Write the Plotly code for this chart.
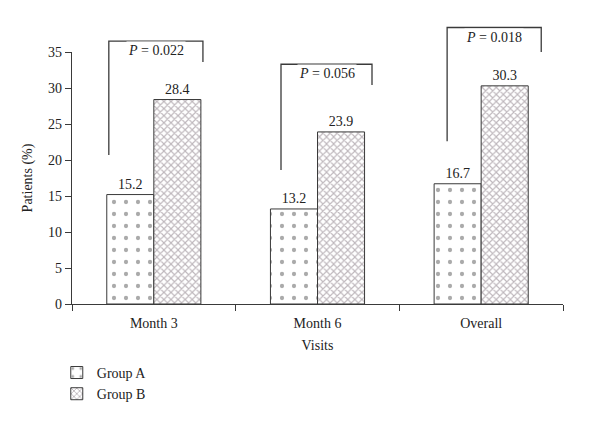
import plotly.graph_objects as go

categories = ["Month 3", "Month 6", "Overall"]
group_a = [15.2, 13.2, 16.7]
group_b = [28.4, 23.9, 30.3]
p_labels = ["0.022", "0.056", "0.018"]
# bracket geometry (data units): left x offset, right x offset, top y, left bottom y, right bottom y
br_left = [-0.275, -0.223, -0.208]
br_right = [0.30, 0.333, 0.367]
br_top = [36.5, 33.3, 38.4]
br_lbot = [20.7, 18.6, 22.6]
br_rbot = [33.6, 30.4, 35.0]

YMAX = 35
FONT = "Liberation Serif"
AX = "#3a3a3a"
FS = 14

fig = go.Figure()
fig.add_trace(go.Bar(
    x=categories, y=group_a, name="Group A",
    marker=dict(color="white", line=dict(color=AX, width=1),
                pattern=dict(shape=".", fgcolor="#555", bgcolor="white", size=12, solidity=0.1)),
    text=[f"{v:.1f}" for v in group_a], textposition="outside",
    textfont=dict(family=FONT, size=FS, color="#222"), cliponaxis=False,
))
fig.add_trace(go.Bar(
    x=categories, y=group_b, name="Group B",
    marker=dict(color="white", line=dict(color=AX, width=1),
                pattern=dict(shape="x", fgcolor="#7d6f7a", bgcolor="white", size=5, solidity=0.4)),
    text=[f"{v:.1f}" for v in group_b], textposition="outside",
    textfont=dict(family=FONT, size=FS, color="#222"), cliponaxis=False,
))

shapes = []
annotations = []
for i in range(len(categories)):
    xl = i + br_left[i]
    xr = i + br_right[i]
    yt = br_top[i] / YMAX
    shapes.append(dict(type="path", xref="x", yref="paper",
                       path=f"M {xl},{br_lbot[i]/YMAX} L {xl},{yt} L {xr},{yt} L {xr},{br_rbot[i]/YMAX}",
                       line=dict(color=AX, width=1.3)))
    annotations.append(dict(x=(xl + xr) / 2, y=yt, xref="x", yref="paper",
                            text=f"<i>P</i> = {p_labels[i]}", showarrow=False,
                            bgcolor="white", borderpad=1,
                            font=dict(family=FONT, size=FS, color="#222")))

fig.update_layout(
    width=600, height=421,
    margin=dict(l=72, r=37, t=52, b=117, autoexpand=False),
    paper_bgcolor="white", plot_bgcolor="white",
    barmode="group", bargap=0.425, bargroupgap=0,
    font=dict(family=FONT, size=FS, color="#222"),
    shapes=shapes, annotations=annotations,
    legend=dict(x=-0.031, y=-0.21, xanchor="left", yanchor="top",
                font=dict(family=FONT, size=FS, color="#222"),
                itemwidth=30, tracegroupgap=0, bgcolor="rgba(0,0,0,0)"),
    xaxis=dict(showline=True, linecolor=AX, linewidth=1.3, ticks="outside",
               tickson="boundaries", ticklen=6, tickcolor=AX, tickwidth=1.3,
               showgrid=False, automargin=False, ticklabelstandoff=6,
               title=dict(text="Visits", standoff=10, font=dict(family=FONT, size=FS)),
               tickfont=dict(family=FONT, size=FS)),
    yaxis=dict(range=[0, YMAX], dtick=5, showline=True, linecolor=AX, linewidth=1.3,
               ticks="outside", ticklen=6, tickcolor=AX, tickwidth=1.3,
               showgrid=False, zeroline=False, automargin=False,
               title=dict(text="Patients (%)", standoff=12, font=dict(family=FONT, size=FS)),
               tickfont=dict(family=FONT, size=FS)),
    showlegend=True,
)

fig.write_html("out.html", config={"displayModeBar": False},
               post_script="document.body.style.margin='0';")
